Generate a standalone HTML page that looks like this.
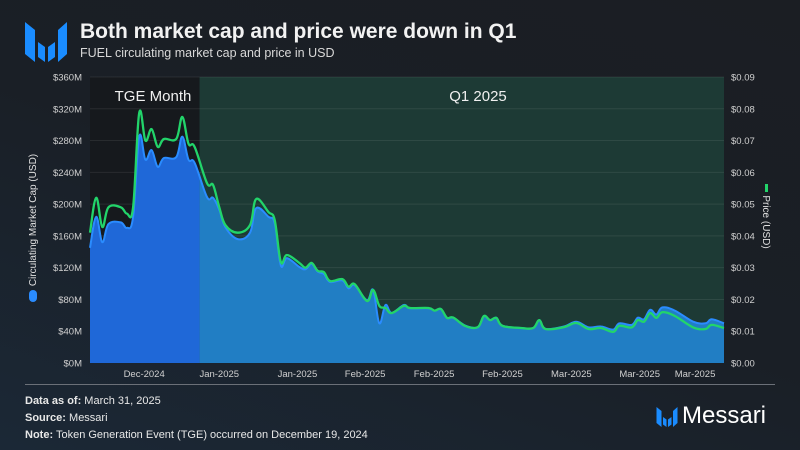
<!DOCTYPE html>
<html><head><meta charset="utf-8"><style>
html,body{margin:0;padding:0}
body{width:800px;height:450px;overflow:hidden;background:linear-gradient(200deg,#1b1e23 0%,#1a1f26 50%,#1b2836 100%);font-family:"Liberation Sans",sans-serif;color:#fff;position:relative}
.t{position:absolute;white-space:nowrap}
</style></head><body>
<svg width="44" height="44" viewBox="0 0 44 44" style="position:absolute;left:24px;top:20px">
<polygon points="1,2 11,10 11,42 1,34" fill="#1a8cff"/><polygon points="14,22 21,27 21,42 14,37" fill="#1a8cff"/><polygon points="24,27 31,22 31,37 24,42" fill="#1a8cff"/><polygon points="34,10 43,2 43,34 34,42" fill="#1a8cff"/></svg>
<div class="t" style="left:80px;top:20px;font-size:21px;font-weight:bold;color:#f2f2f2">Both market cap and price were down in Q1</div>
<div class="t" style="left:80px;top:46px;font-size:12.5px;color:#d8d8d8">FUEL circulating market cap and price in USD</div>
<svg id="chart" width="800" height="390" style="position:absolute;left:0;top:0"></svg>
<div style="position:absolute;left:25px;top:384px;width:750px;height:1px;background:#6b7078"></div>
<div class="t" style="left:25px;top:395px;font-size:11px;color:#e8e8e8"><b>Data as of:</b> March 31, 2025</div>
<div class="t" style="left:25px;top:412px;font-size:11px;color:#e8e8e8"><b>Source:</b> Messari</div>
<div class="t" style="left:25px;top:429px;font-size:11px;color:#e8e8e8"><b>Note:</b> Token Generation Event (TGE) occurred on December 19, 2024</div>
<svg width="22" height="24" viewBox="0 0 44 44" style="position:absolute;left:656px;top:405px">
<polygon points="1,2 11,10 11,42 1,34" fill="#1a8cff"/><polygon points="14,22 21,27 21,42 14,37" fill="#1a8cff"/><polygon points="24,27 31,22 31,37 24,42" fill="#1a8cff"/><polygon points="34,10 43,2 43,34 34,42" fill="#1a8cff"/></svg>
<div class="t" style="left:682px;top:402px;font-size:24px;color:#fff">Messari</div>
<script>
const days=[0,1,2,3,5,6,7,8,9,10,11,12,14,15,16,17,19,20,21,22,24,26,27,29,30,31,32,34,35,36,37,38,39,41,42,43,45,46,47,48,49,51,52,55,56,57,58,59,61,63,64,65,66,67,70,72,73,74,77,79,81,83,85,86,88,89,90,91,92,93,95,98,100,101,103];
const mcap=[145,184,152,175,177,170,184,285,256,268,247,258,259,285,256,252,209,208,193,171,156,164,195,184,176,123,132,121,118,125,115,112,102,104,94,98,79,92,50,73,63,73,69,69,66,68,57,57,47,45,59,54,57,47,44,44,54,43,46,52,45,46,42,50,48,57,55,67,61,70,66,52,50,55,50];
const price=[.041,.052,.0428,.049,.049,.047,.049,.0787,.070,.0736,.068,.0705,.0705,.0774,.069,.068,.0566,.056,.049,.0434,.041,.0434,.0516,.0475,.045,.0318,.034,.0315,.030,.0315,.029,.0286,.0258,.0264,.024,.0248,.0195,.023,.018,.0173,.0157,.018,.0173,.0173,.0165,.017,.0142,.0143,.0116,.0113,.0148,.0135,.0142,.0117,.011,.011,.0135,.0107,.0113,.0126,.0107,.011,.0098,.0117,.0112,.0135,.013,.0157,.0142,.016,.0148,.0112,.0107,.012,.011];
const leftTicks=["$0M","$40M","$80M","$120M","$160M","$200M","$240M","$280M","$320M","$360M"];
const rightTicks=["$0.00","$0.01","$0.02","$0.03","$0.04","$0.05","$0.06","$0.07","$0.08","$0.09"];
const xLabels=["Dec-2024","Jan-2025","Jan-2025","Feb-2025","Feb-2025","Feb-2025","Mar-2025","Mar-2025","Mar-2025"];
const xLabelDays=[8.8,21,33.7,44.7,55.9,67,78.2,89.3,98.3];
const tgeEnd=17.8;
const X0=90,X1=724,Y0=363,Y1=77,DMAX=103;
const sx=d=>X0+d/DMAX*(X1-X0);
const sy=v=>Y0-v/360*(Y0-Y1);
const sp=p=>Y0-p/0.09*(Y0-Y1);
const svg=document.getElementById('chart');
const NS='http://www.w3.org/2000/svg';
function mk(t,a,txt){const e=document.createElementNS(NS,t);for(const k in a)e.setAttribute(k,a[k]);if(txt!=null)e.textContent=txt;svg.appendChild(e);return e;}
function smooth(pts){let d='M'+pts[0][0].toFixed(1)+','+pts[0][1].toFixed(1);const t=0.18;
 for(let i=0;i<pts.length-1;i++){const p0=pts[Math.max(0,i-1)],p1=pts[i],p2=pts[i+1],p3=pts[Math.min(pts.length-1,i+2)];
 const c1x=p1[0]+(p2[0]-p0[0])*t,c1y=p1[1]+(p2[1]-p0[1])*t,c2x=p2[0]-(p3[0]-p1[0])*t,c2y=p2[1]-(p3[1]-p1[1])*t;
 d+='C'+c1x.toFixed(1)+','+c1y.toFixed(1)+' '+c2x.toFixed(1)+','+c2y.toFixed(1)+' '+p2[0].toFixed(1)+','+p2[1].toFixed(1);}
 return d;}
let e;
e=mk('rect',{x:X0,y:Y1,width:sx(tgeEnd)-X0,height:Y0-Y1,fill:'#16191d'});


e=mk('rect',{x:sx(tgeEnd),y:Y1,width:X1-sx(tgeEnd),height:Y0-Y1,fill:'#1d3a35'});


leftTicks.forEach((t,i)=>{const y=sy(i*40);
 if(i>0){e=mk('line',{x1:X0,x2:X1,y1:y,y2:y,stroke:'rgba(255,255,255,0.08)','stroke-width':1});
 
 }
 e=mk('text',{x:82,y:y+3.5,'text-anchor':'end','font-size':9.5,fill:'#d0d0d0'},t);
 
 
 e=mk('text',{x:731,y:sp(i*0.01)+3.5,'font-size':9.5,fill:'#d0d0d0'},rightTicks[i]);
 
 
});
const mpts=days.map((d,i)=>[sx(d),sy(mcap[i])]);
const ln=smooth(mpts);
const ar=ln+'L'+sx(days[days.length-1])+','+Y0+'L'+sx(days[0])+','+Y0+'Z';
const cp1=mk('clipPath',{id:'c1'});
const c1=document.createElementNS(NS,'rect');c1.setAttribute('x',X0);c1.setAttribute('y',0);c1.setAttribute('width',sx(tgeEnd)-X0);c1.setAttribute('height',400);cp1.appendChild(c1);
const cp2=mk('clipPath',{id:'c2'});
const c2=document.createElementNS(NS,'rect');c2.setAttribute('x',sx(tgeEnd));c2.setAttribute('y',0);c2.setAttribute('width',X1-sx(tgeEnd));c2.setAttribute('height',400);cp2.appendChild(c2);
e=mk('path',{d:ar,fill:'#1f68d8','clip-path':'url(#c1)'});


e=mk('path',{d:ar,fill:'#217ec4','clip-path':'url(#c2)'});


e=mk('path',{d:ln,fill:'none',stroke:'#2a8cff','stroke-width':2,'stroke-linejoin':'round'});


const ppts=days.map((d,i)=>[sx(d),sp(price[i])]);
e=mk('path',{d:smooth(ppts),fill:'none',stroke:'#22d46a','stroke-width':2.3,'stroke-linejoin':'round'});


e=mk('text',{x:153,y:101,'text-anchor':'middle','font-size':15,fill:'#f0f0f0'},'TGE Month');


e=mk('text',{x:478,y:101,'text-anchor':'middle','font-size':15,fill:'#f0f0f0'},'Q1 2025');


xLabels.forEach((t,i)=>{e=mk('text',{x:sx(xLabelDays[i]),y:377,'text-anchor':'middle','font-size':9.5,fill:'#d0d0d0'},t);
 
 });
e=mk('text',{transform:'translate(36,220) rotate(-90)','text-anchor':'middle','font-size':10,fill:'#e0e0e0'},'Circulating Market Cap (USD)');


e=mk('rect',{x:29,y:290,width:8,height:12,rx:4,fill:'#2a8cff'});


e=mk('text',{transform:'translate(763,222) rotate(90)','text-anchor':'middle','font-size':10,fill:'#e0e0e0'},'Price (USD)');


e=mk('rect',{x:765,y:184,width:3,height:8,fill:'#22d46a'});


</script>
</body></html>
